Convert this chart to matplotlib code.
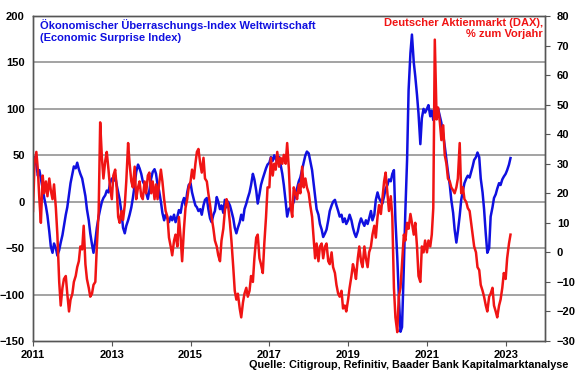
import matplotlib
matplotlib.use("Agg")
import matplotlib.pyplot as plt
import matplotlib.dates as mdates
import pandas as pd

plt.rcParams['font.family'] = ['Liberation Sans', 'DejaVu Sans']
plt.rcParams['font.weight'] = 'bold'

# Citi Economic Surprise Index (global), two points per month
esi = [
    38, 48, 40, 28, 34, 25, 14, 4, -5, -15, -32, -48, -55, -45, -50, -58, -52, -44, -36, -26, -14, -6, 8, 20,  # 2011
    30, 38, 36, 42, 35, 30, 25, 16, 6, -8, -20, -34, -46, -55, -42, -28, -16, -8, 0, 4, 7, 12, 10, 20,  # 2012
    25, 22, 28, 18, 10, 2, -12, -28, -34, -26, -20, -14, -6, 4, 18, 32, 40, 36, 30, 22, 18, 10, 3, 12,  # 2013
    25, 32, 35, 30, 18, 12, 0, -12, -20, -14, -18, -22, -16, -20, -14, -22, -16, -9, -12, -2, 4, -4, 10, 18,  # 2014
    20, 10, 2, -4, -6, -10, -8, -14, -4, 2, 4, -8, -18, -22, -14, -10, 5, 0, -8, -4, -12, 2, -6, 0,  # 2015
    -4, -10, -18, -28, -34, -28, -22, -14, -20, -8, -2, 4, 10, 18, 30, 24, 12, -2, 8, 18, 25, 30, 36, 40,  # 2016
    42, 48, 44, 50, 46, 42, 48, 40, 30, 18, 0, -16, -8, -6, -4, 0, 8, 15, 22, 26, 35, 42, 50, 54,  # 2017
    52, 44, 34, 20, 5, -8, -14, -24, -30, -38, -34, -30, -20, -10, -4, 0, 2, -4, -10, -16, -14, -22, -18, -24,  # 2018
    -20, -14, -20, -28, -34, -38, -32, -24, -18, -22, -26, -20, -24, -18, -10, -20, -14, 2, 10, 4, 0, -2, 6, 14,  # 2019
    18, 24, 22, 30, 34, -20, -60, -100, -140, -135, -70, -10, 45, 120, 160, 180, 150, 135, 115, 95, 62, 90, 100, 96,  # 2020
    100, 104, 92, 98, 88, 95, 90, 100, 92, 85, 72, 60, 45, 32, 18, 2, -12, -30, -44, -32, -15, 2, 12, 20,  # 2021
    25, 28, 26, 32, 38, 45, 48, 53, 48, 25, 10, -8, -35, -55, -50, -16, -6, 4, 8, 14, 20, 18, 24, 27,  # 2022
    30, 34, 40, 47,  # 2023
]

# DAX, % change on previous year
dax = [
    14, 30, 34, 28, 18, 10, 26, 20, 24, 19, 25, 21, 18, 23, 15, 6, -10, -18, -12, -9, -8, -14, -20, -16,  # 2011
    -14, -10, -8, -5, -3, 2, 1, 9, -4, -9, -12, -15, -14, -11, -10, 2, 14, 44, 32, 25, 31, 34, 28, 22,  # 2012
    18, 26, 28, 22, 12, 10, 14, 11, 16, 24, 37, 30, 24, 22, 29, 18, 22, 24, 19, 18, 24, 20, 26, 27,  # 2013
    20, 24, 18, 23, 18, 23, 28, 24, 18, 14, 12, 5, 2, -1, 4, 6, 2, 12, 5, -3, 8, 15, 18, 22,  # 2014
    24, 28, 25, 30, 34, 35, 30, 27, 32, 25, 24, 20, 16, 12, 8, 4, 2, -1, -3, 4, 8, 14, 18, 16,  # 2015
    10, 4, -5, -13, -16, -14, -19, -22, -17, -14, -12, -15, -13, -8, -10, -2, 5, 6, -2, -4, -7, 3, 12, 22,  # 2016
    22, 32, 26, 30, 28, 34, 29, 32, 30, 33, 30, 37, 28, 16, 12, 22, 20, 18, 23, 20, 29, 22, 25, 22,  # 2017
    20, 16, 12, 5, -2, 3, -3, 2, 3, -2, 2, 3, -3, -4, 0, -5, -7, -11, -14, -15, -13, -19, -18, -20,  # 2018
    -16, -12, -8, -4, -6, -9, -2, 2, -3, -5, 2, -2, -5, 0, 2, 6, 9, 5, 12, 16, 13, 18, 24, 27,  # 2019
    20, 14, 19, 12, -12, -22, -27, -15, -12, -4, 6, 4, 10, 8, 13, 10, 6, 10, 2, -8, -10, 2, 0, 4,  # 2020
    0, 4, 2, 6, 15, 72, 45, 49, 44, 38, 43, 33, 30, 25, 24, 22, 21, 20, 22, 25, 37, 20, 22, 18,  # 2021
    17, 15, 14, 10, 6, 2, 0, -5, -6, -11, -13, -15, -18, -20, -15, -14, -12, -18, -20, -22, -18, -16, -12, -7,  # 2022
    -9, -2, 3, 6,  # 2023
]

esi_dates = pd.date_range("2011-01-01", periods=len(esi), freq="SMS")
dax_dates = pd.date_range("2011-01-01", periods=len(dax), freq="SMS")

left_ticks = [-150, -100, -50, 0, 50, 100, 150, 200]
right_ticks = [-30, -20, -10, 0, 10, 20, 30, 40, 50, 60, 70, 80]
year_ticks = [2011, 2013, 2015, 2017, 2019, 2021, 2023]

BLUE = "#1010E0"
RED = "#F01414"
FRAME = "#555555"

fig = plt.figure(figsize=(5.8, 3.75), dpi=100)
ax = fig.add_axes([33 / 580, 1 - 341 / 375, 512 / 580, 325 / 375])
ax2 = ax.twinx()

for v in left_ticks[1:-1]:
    ax.axhline(v, color="#9c9c9c", lw=1.3, zorder=0)

ax.plot(esi_dates, esi, color=BLUE, lw=1.8)
ax2.plot(dax_dates, dax, color=RED, lw=1.8)

ax.set_ylim(-150, 200)
ax.set_yticks(left_ticks)
ax2.set_ylim(-30, 80)
ax2.set_yticks(right_ticks)
ax.set_xlim(pd.Timestamp("2011-01-01"), pd.Timestamp("2024-01-01"))
ax.set_xticks([pd.Timestamp(f"{y}-01-01") for y in year_ticks])
ax.xaxis.set_major_formatter(mdates.DateFormatter("%Y"))

for a in (ax, ax2):
    for s in a.spines.values():
        s.set_color(FRAME)
        s.set_linewidth(1.0)

ax.tick_params(axis="y", length=0, pad=6, labelsize=8)
ax.tick_params(axis="x", length=3.5, pad=3, labelsize=8, color=FRAME, direction="out")
ax2.tick_params(axis="y", length=3.5, pad=5, labelsize=8, color=FRAME, direction="out")

ax.text(0.014, 0.99, "Ökonomischer Überraschungs-Index Weltwirtschaft\n(Economic Surprise Index)",
        transform=ax.transAxes, ha="left", va="top", color=BLUE, fontsize=8, fontweight="bold")
ax.text(0.996, 0.995, "Deutscher Aktienmarkt (DAX),\n% zum Vorjahr",
        transform=ax.transAxes, ha="right", va="top", multialignment="right",
        color=RED, fontsize=8, fontweight="bold")

fig.text(568 / 580, 1 - 365 / 375, "Quelle: Citigroup, Refinitiv, Baader Bank Kapitalmarktanalyse",
         ha="right", va="center", fontsize=7.8, fontweight="bold")

fig.savefig("out.png", dpi=100)
